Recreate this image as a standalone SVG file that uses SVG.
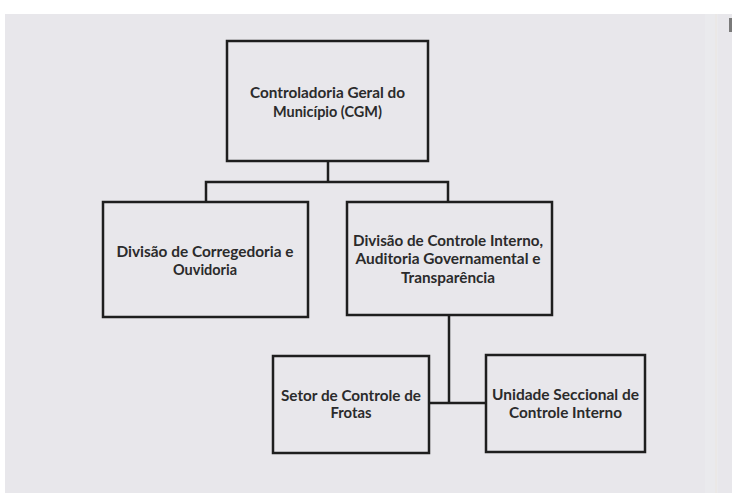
<svg xmlns="http://www.w3.org/2000/svg" width="732" height="493" viewBox="0 0 732 493">
<style>
.box{fill:none;stroke:#1e1e1e;stroke-width:2.5}
.ln{fill:none;stroke:#1e1e1e;stroke-width:2.5}
text{font-family:Lato,"Liberation Sans",sans-serif;font-weight:700;font-size:16px;fill:#2b2b2b;text-anchor:middle}
</style>
<rect x="0" y="0" width="732" height="493" fill="#ffffff"/>
<rect x="5" y="14" width="727" height="479" fill="#e8e7eb"/>
<rect x="705" y="14" width="13" height="479" fill="#eaeaed"/>
<line x1="716" y1="14" x2="716" y2="493" stroke="#ebe6e0" stroke-width="1"/>
<rect x="729" y="18" width="3" height="14" fill="#7a7a7a"/>
<g id="connectors">
<polyline class="ln" points="328,161 328,182"/>
<polyline class="ln" points="206,202 206,182 448,182 448,202"/>
<polyline class="ln" points="449,315 449,403"/>
<polyline class="ln" points="429,403 486,403"/>
</g>
<g id="cgm">
<rect class="box" x="227" y="41" width="201" height="120"/>
<text x="327.5" y="98" textLength="155" lengthAdjust="spacingAndGlyphs">Controladoria Geral do</text>
<text x="327.5" y="116.5" textLength="109" lengthAdjust="spacingAndGlyphs">Município (CGM)</text>
</g>
<g id="corregedoria">
<rect class="box" x="103" y="202" width="205" height="115"/>
<text x="205" y="257" textLength="177" lengthAdjust="spacingAndGlyphs">Divisão de Corregedoria e</text>
<text x="205" y="275" textLength="64" lengthAdjust="spacingAndGlyphs">Ouvidoria</text>
</g>
<g id="controle">
<rect class="box" x="347" y="202" width="205" height="113"/>
<text x="448" y="245.5" textLength="190" lengthAdjust="spacingAndGlyphs">Divisão de Controle Interno,</text>
<text x="448" y="264" textLength="185" lengthAdjust="spacingAndGlyphs">Auditoria Governamental e</text>
<text x="448" y="282.5" textLength="94" lengthAdjust="spacingAndGlyphs">Transparência</text>
</g>
<g id="frotas">
<rect class="box" x="273" y="356" width="156" height="97"/>
<text x="351" y="400.5" textLength="140" lengthAdjust="spacingAndGlyphs">Setor de Controle de</text>
<text x="351" y="418" textLength="41" lengthAdjust="spacingAndGlyphs">Frotas</text>
</g>
<g id="seccional">
<rect class="box" x="486" y="355" width="159" height="97"/>
<text x="565.5" y="400" textLength="147" lengthAdjust="spacingAndGlyphs">Unidade Seccional de</text>
<text x="565.5" y="418" textLength="113" lengthAdjust="spacingAndGlyphs">Controle Interno</text>
</g>
</svg>
